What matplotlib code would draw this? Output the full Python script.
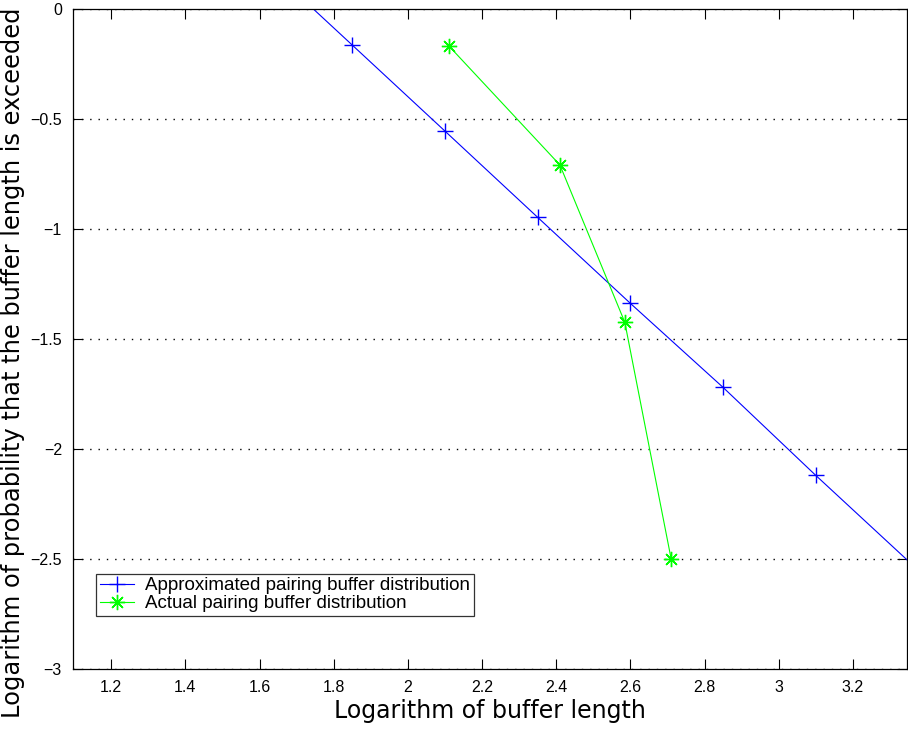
import numpy as np
import matplotlib
matplotlib.use("Agg")
import matplotlib.pyplot as plt
import matplotlib.ticker as ticker

# approximated distribution (straight fit, markers on inner points)
approx_x = [1.745, 1.85, 2.10, 2.35, 2.60, 2.85, 3.10, 3.35]
approx_y = [0.0, -0.164, -0.555, -0.947, -1.338, -1.72, -2.12, -2.51]
# actual measured distribution
actual_x = [2.11, 2.41, 2.585, 2.71]
actual_y = [-0.167, -0.709, -1.424, -2.50]

x_ticks = [1.2, 1.4, 1.6, 1.8, 2.0, 2.2, 2.4, 2.6, 2.8, 3.0, 3.2]
y_ticks = [0, -0.5, -1, -1.5, -2, -2.5, -3]

plt.rcParams['font.family'] = ['Liberation Sans', 'DejaVu Sans']

fig = plt.figure(figsize=(9.08, 7.29), dpi=100)
ax = fig.add_axes([0.0804, 0.0823, 0.9185, 0.9054])

# matlab style asterisk: + and x together
ax.plot(approx_x, approx_y, '-', color=(0, 0, 1), lw=0.8, marker='+', ms=11,
        mew=1.0, markevery=list(range(1, len(approx_x) - 1)),
        label='Approximated pairing buffer distribution')
ax.plot(actual_x, actual_y, '-', color=(0, 1, 0), lw=0.8, marker=(8, 2, 0), ms=11,
        mew=1.0, label='Actual pairing buffer distribution')

ax.set_xlim(1.097, 3.346)
ax.set_ylim(-3, 0)
ax.set_xticks(x_ticks)
ax.set_yticks(y_ticks)
fmt = ticker.FuncFormatter(lambda v, pos: '%g' % v)
ax.xaxis.set_major_formatter(fmt)
ax.yaxis.set_major_formatter(ticker.FuncFormatter(lambda v, pos: ('%g' % v).replace('-', '\u2212')))
ax.tick_params(direction='in', length=7, width=0.8, top=True, right=True,
               labelsize=11.5, pad=8)
ax.yaxis.grid(True, color='black', linestyle=(0, (1, 5)), lw=1.0)
for s in ax.spines.values():
    s.set_linewidth(0.9)

ax.set_xlabel('Logarithm of buffer length', family='DejaVu Sans', fontsize=17,
              weight='medium', labelpad=3)
ax.set_ylabel('Logarithm of probability that the buffer length is exceeded',
              family='DejaVu Sans', fontsize=17.4, weight='medium')
ax.yaxis.set_label_coords(-0.058, 0.464)

leg = ax.legend(loc='lower left', bbox_to_anchor=(0.0276, 0.080), borderaxespad=0,
                fontsize=13.5, frameon=True, fancybox=False, edgecolor='black',
                handlelength=1.8, borderpad=0.2, labelspacing=0.05, handletextpad=0.6)
leg.get_frame().set_linewidth(0.9)

plt.savefig('out.png', dpi=100)
